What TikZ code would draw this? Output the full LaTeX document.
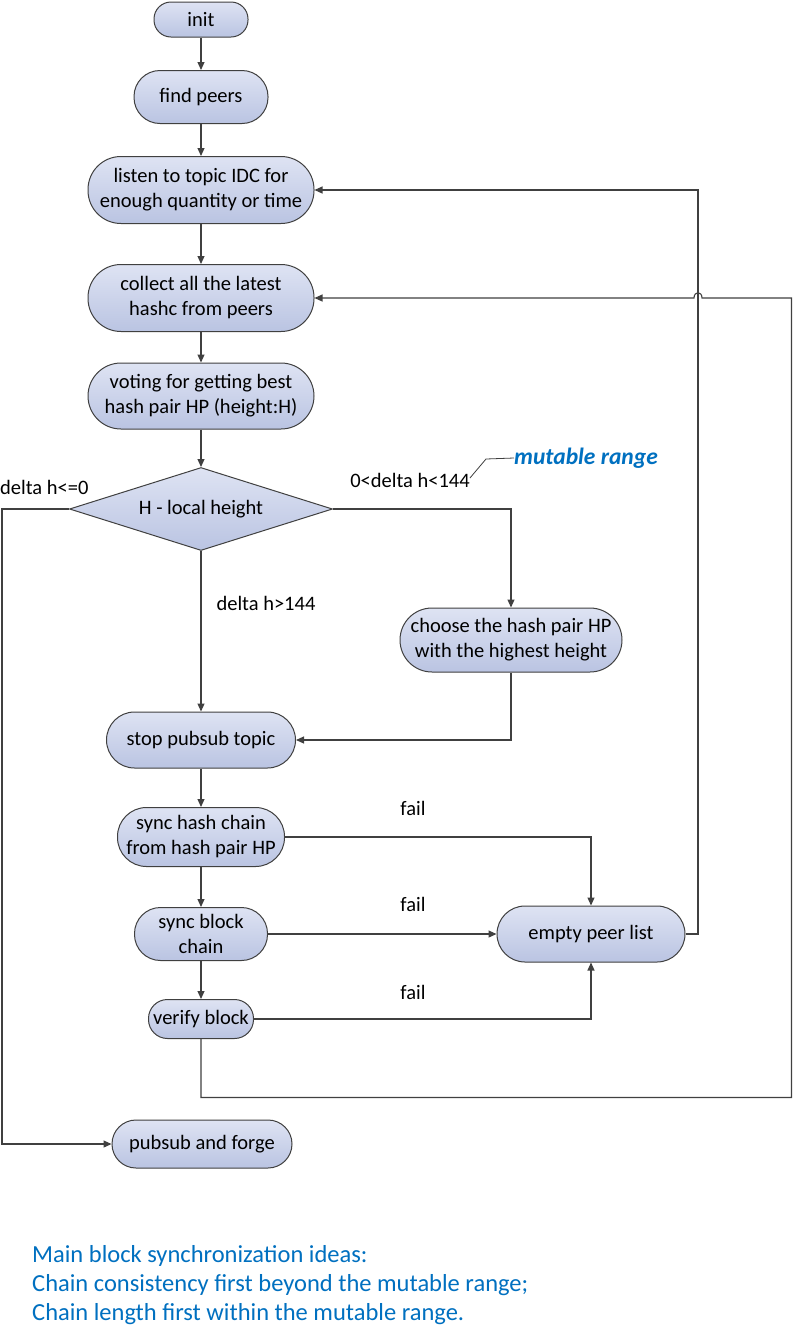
\documentclass[tikz,border=0pt]{standalone}
\usepackage{fontspec}
\setmainfont{Carlito}
\usetikzlibrary{arrows.meta,shapes.geometric}
\definecolor{linecol}{RGB}{64,64,64}
\definecolor{boxtop}{RGB}{222,227,243}
\definecolor{boxbot}{RGB}{186,196,226}
\definecolor{noteblue}{RGB}{0,112,192}
\tikzset{
  box/.style={draw=linecol, line width=1pt, top color=boxtop, bottom color=boxbot,
    align=center, inner sep=0pt, font=\fontsize{20.5}{25}\selectfont},
  dec/.style={shape=diamond, draw=linecol, line width=1pt, top color=boxtop, bottom color=boxbot,
    inner sep=0pt, shape aspect=3.17, font=\fontsize{20.5}{25}\selectfont},
  conn/.style={draw=linecol, line width=1.1pt, -{Triangle[length=8pt,width=7pt]}},
  plain/.style={draw=linecol, line width=1.1pt},
  lbl/.style={font=\fontsize{20.5}{25}\selectfont, inner sep=0pt},
  notetext/.style={font=\fontsize{24.5}{29}\selectfont, text=noteblue, inner sep=0pt, anchor=base west}
}
\begin{document}
\begin{tikzpicture}[x=1pt,y=-1pt]
\useasboundingbox[fill=white] (0,0) rectangle (793,1326);
% nodes
\node[box, minimum width=94pt, minimum height=35pt, rounded corners=17pt] (init) at (201,19.5) {init};
\node[box, minimum width=134pt, minimum height=53pt, rounded corners=26pt] (find) at (201,97) {find peers};
\node[box, minimum width=226pt, minimum height=67pt, rounded corners=33pt] (listen) at (201,190) {listen to topic IDC for\\enough quantity or time};
\node[box, minimum width=226pt, minimum height=67pt, rounded corners=33pt] (collect) at (201,298) {collect all the latest\\hashc from peers};
\node[box, minimum width=226pt, minimum height=66pt, rounded corners=33pt] (voting) at (201,396) {voting for getting best\\hash pair HP (height:H)};
\node[dec, minimum width=263pt, minimum height=83pt] (decide) at (201,509) {H - local height};
\node[box, minimum width=222pt, minimum height=64pt, rounded corners=32pt] (choose) at (511,640) {choose the hash pair HP\\with the highest height};
\node[box, minimum width=189pt, minimum height=56pt, rounded corners=28pt] (stop) at (201,740) {stop pubsub topic};
\node[box, minimum width=167pt, minimum height=59pt, rounded corners=29pt] (synchash) at (201,837) {sync hash chain\\from hash pair HP};
\node[box, minimum width=133pt, minimum height=53pt, rounded corners=26pt] (syncblock) at (201,934) {sync block\\chain};
\node[box, minimum width=105pt, minimum height=39pt, rounded corners=19pt] (verify) at (201,1019) {verify block};
\node[box, minimum width=188pt, minimum height=56pt, rounded corners=28pt] (empty) at (591,934) {empty peer list};
\node[box, minimum width=180pt, minimum height=48pt, rounded corners=24pt] (pubsub) at (202,1144) {pubsub and forge};
% coordinates
\coordinate (leftrail) at (2,509);
\coordinate (loopBR) at (791.5,1097.5);
\coordinate (hopR) at (702,298);
\coordinate (hopL) at (694,298);
\coordinate (rightrail) at (698,934);
% straight flow
\draw[conn] (init) -- (find);
\draw[conn] (find) -- (listen);
\draw[conn] (listen) -- (collect);
\draw[conn] (collect) -- (voting);
\draw[conn] (voting) -- (decide);
\draw[conn] (decide) -- (stop);
\draw[conn] (stop) -- (synchash);
\draw[conn] (synchash) -- (syncblock);
\draw[conn] (syncblock) -- (verify);
% branches
\draw[conn] (decide.west) -- (leftrail) |- (pubsub.west);
\draw[conn] (decide.east) -| (choose.north);
\draw[conn] (choose.south) |- (stop.east);
\draw[conn] (synchash.east) -| (empty.north);
\draw[conn] (syncblock.east) -- (empty.west);
\draw[conn] (verify.east) -| (empty.south);
\draw[conn] (empty.east) -- (rightrail) |- (listen.east);
\draw[conn] (verify.south) |- (loopBR) |- (hopR) .. controls (702,291) and (694,291) .. (hopL) -- (collect.east);
% labels
\node[lbl, anchor=west] (lneg) at (0,487) {delta h<=0};
\node[lbl] (lmid) at (410,480) {0<delta h<144};
\node[lbl] (lbig) at (266,603) {delta h>144};
\node[lbl] (fail1) at (413,808) {fail};
\node[lbl] (fail2) at (413,904) {fail};
\node[lbl] (fail3) at (413,992) {fail};
\node[lbl, anchor=west, text=noteblue, font=\fontsize{23.5}{27}\selectfont\bfseries\itshape] (mutable) at (514,458) {mutable range};
\draw[plain, line width=0.8pt] (lmid.east) ++(0,-2) -- (486,459) -- (mutable.west);
% note
\node[notetext] (note1) at (32,1262) {Main block synchronization ideas:};
\node[notetext] (note2) at (32,1291) {Chain consistency first beyond the mutable range;};
\node[notetext] (note3) at (32,1320) {Chain length first within the mutable range.};
\end{tikzpicture}
\end{document}
